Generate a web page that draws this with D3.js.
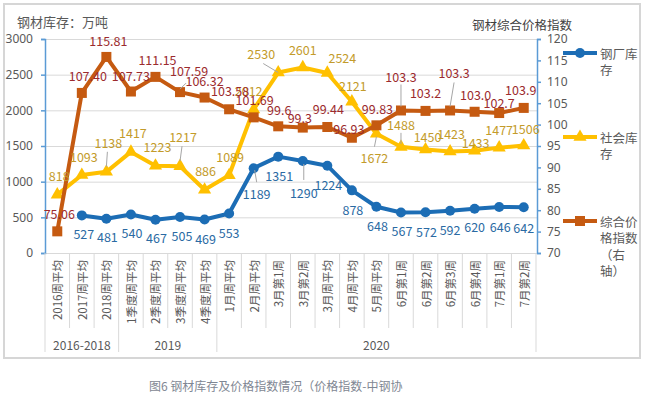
<!DOCTYPE html>
<html>
<head>
<meta charset="utf-8">
<script src="https://cdn.jsdelivr.net/npm/d3@7"></script>
<style>
  body { margin: 0; background: #fff; }
  svg { display: block; font-family: "Noto Sans CJK SC", "Noto Sans", sans-serif; }
</style>
</head>
<body>
<div id="chart"></div>
<script>
// ---- data ----
const categories = [
  '2016周平均', '2017周平均', '2018周平均',
  '1季度周平均', '2季度周平均', '3季度周平均', '4季度周平均',
  '1月周平均', '2月周平均', '3月第1周', '3月第2周', '3月周平均', '4月周平均', '5月周平均',
  '6月第1周', '6月第2周', '6月第3周', '6月第4周', '7月第1周', '7月第2周'
];
const groupNames = ['2016-2018', '2019', '2020'];
const groupSizes = [3, 4, 13];

const millStock   = [null, 527, 481, 540, 467, 505, 469, 553, 1189, 1351, 1290, 1224, 878, 648, 567, 572, 592, 620, 646, 642];
const socialStock = [818, 1093, 1138, 1417, 1223, 1217, 886, 1089, 2012, 2530, 2601, 2524, 2121, 1672, 1488, 1450, 1423, 1433, 1477, 1506];
const priceIndex  = [75.06, 107.40, 115.81, 107.73, 111.15, 107.59, 106.32, 103.58, 101.69, 99.6, 99.3, 99.44, 96.93, 99.83, 103.3, 103.2, 103.3, 103.0, 102.7, 103.9];
const priceText   = ['75.06', '107.40', '115.81', '107.73', '111.15', '107.59', '106.32', '103.58', '101.69', '99.6', '99.3', '99.44', '96.93', '99.83', '103.3', '103.2', '103.3', '103.0', '102.7', '103.9'];

const leftTicks  = [0, 500, 1000, 1500, 2000, 2500, 3000];
const rightTicks = [70, 75, 80, 85, 90, 95, 100, 105, 110, 115, 120];

// ---- label placement (offset of label centre from its point) ----
const millShift = [null, [2,18], [1,18], [1,18], [1,18], [2,19], [1,19], [0,19], [3,25], [1,19],
  [1,32], [1,19], [1,19], [1,19], [1,18], [1,19], [0,19], [0,18], [1,20], [0,20]];
const socialShift = [[2,-19], [2,-19], [2,-29], [2,-19], [2,-19], [3,-30], [1,-19], [1,-19], [-5,-19], [-17,-19],
  [0,-18], [15,-15], [1,-16], [-2,24], [0,-22], [2,-13], [1,-18], [1,-8], [0,-18], [2,-17]];
const priceShift = [[2,-18], [6,-17], [2,-16], [0,-16], [2,-17], [9,-22], [0,-17], [1,-19], [1,-18], [1,-17],
  [-3,-10], [1,-18], [-3,-9], [1,-17], [0,-34], [0,-18], [4,-38], [1,-17], [0,-11], [-3,-18]];
// leader lines: [index, x1, y1, x2, y2] relative to the point
const millLeaders   = [[8, 1, 2, 3, 14], [10, 1, 3, 1, 19]];
const socialLeaders = [[2, 0, -5, 1, -20], [5, 0, -5, 2, -20], [9, 0, 0, -15, -9], [13, 0, 3, -2, 13], [14, 0, -3, 0, -14]];
const priceLeaders  = [[5, 0, -3, 6, -9], [14, 0, -4, 0, -26], [16, 0, -4, 4, -28]];

const C = {
  mill: '#1c6db5', millText: '#2a6aa3',
  social: '#ffc000', socialText: '#c39b2a',
  price: '#c55a11', priceText: '#9c2b2e',
  grid: '#d9d9d9', axis: '#5b9bd5', text: '#595959'
};

const W = 646, H = 397;
const m = { l: 45, r: 537, t: 39, b: 253 };

const svg = d3.select('#chart').append('svg').attr('width', W).attr('height', H);

svg.append('rect').attr('x', 4).attr('y', 4).attr('width', 636).attr('height', 354)
  .attr('fill', '#fff').attr('stroke', '#d6d6d6').attr('stroke-width', 2);

const x  = d3.scaleBand().domain(categories).range([m.l, 536]);
const yL = d3.scaleLinear().domain([0, 3000]).range([m.b, m.t]);
const yR = d3.scaleLinear().domain([70, 120]).range([m.b, m.t]);
const cx = i => x(categories[i]) + x.bandwidth() / 2;

// grid
svg.append('g').attr('transform', `translate(${m.l},0)`)
  .call(d3.axisLeft(yL).tickValues(leftTicks).tickSize(-(m.r - m.l)).tickFormat(''))
  .call(g => g.select('.domain').remove())
  .call(g => g.selectAll('line').attr('stroke', C.grid).attr('stroke-width', 1));

// left axis
svg.append('g').attr('transform', `translate(${m.l},0)`)
  .call(d3.axisLeft(yL).tickValues(leftTicks).tickSize(4).tickPadding(8).tickFormat(d3.format('d')))
  .call(g => g.selectAll('.domain, line').attr('stroke', C.axis).attr('stroke-width', 1.5))
  .call(g => g.selectAll('text').attr('fill', C.text).attr('font-size', 12).attr('font-family', 'Noto Sans'));

// right axis
svg.append('g').attr('transform', `translate(${m.r},0)`)
  .call(d3.axisRight(yR).tickValues(rightTicks).tickSize(4).tickPadding(6).tickFormat(d3.format('d')))
  .call(g => g.selectAll('.domain, line').attr('stroke', C.axis).attr('stroke-width', 1.5))
  .call(g => g.selectAll('text').attr('fill', C.text).attr('font-size', 12).attr('font-family', 'Noto Sans'));

// category dividers + group dividers
const bounds = categories.map(c => x(c)).concat([x.range()[1]]);
const groupStarts = [0];
groupSizes.forEach((s, i) => groupStarts.push(groupStarts[i] + s));
svg.append('g').selectAll('line').data(bounds).join('line')
  .attr('x1', d => d).attr('x2', d => d).attr('y1', m.b)
  .attr('y2', (d, i) => groupStarts.includes(i) ? 352 : 328)
  .attr('stroke', C.grid).attr('stroke-width', 1);

svg.append('g').selectAll('text').data(categories).join('text')
  .attr('transform', (d, i) => `translate(${cx(i)},260) rotate(-90)`)
  .attr('text-anchor', 'end').attr('dominant-baseline', 'central')
  .attr('font-size', 11.5).attr('fill', C.text).text(d => d);

svg.append('g').selectAll('text').data(groupNames).join('text')
  .attr('x', (d, i) => (bounds[groupStarts[i]] + bounds[groupStarts[i + 1]]) / 2)
  .attr('y', 344).attr('text-anchor', 'middle').attr('dominant-baseline', 'central')
  .attr('font-size', 12).attr('fill', C.text).text(d => d);

// series
function drawSeries(values, y, color, marker) {
  const pts = values.map((v, i) => ({ i, v }));
  const line = d3.line().defined(d => d.v != null).x(d => cx(d.i)).y(d => y(d.v));
  svg.append('path').datum(pts).attr('fill', 'none').attr('stroke', color)
    .attr('stroke-width', 4).attr('stroke-linejoin', 'round').attr('d', line);
  const g = svg.append('g');
  pts.filter(d => d.v != null).forEach(d => marker(g, cx(d.i), y(d.v), color));
}
const circleMark = (g, px, py, col) => g.append('circle').attr('cx', px).attr('cy', py).attr('r', 5).attr('fill', col);
const triMark = (g, px, py, col) => g.append('path').attr('d', d3.symbol(d3.symbolTriangle, 75)())
  .attr('transform', `translate(${px},${py})`).attr('fill', col);
const squareMark = (g, px, py, col) => g.append('rect').attr('x', px - 5).attr('y', py - 5)
  .attr('width', 10).attr('height', 10).attr('fill', col);

drawSeries(millStock, yL, C.mill, circleMark);
drawSeries(socialStock, yL, C.social, triMark);
drawSeries(priceIndex, yR, C.price, squareMark);

// leaders + labels
function drawLabels(values, texts, y, shift, leaders, color) {
  const g = svg.append('g');
  leaders.forEach(([i, x1, y1, x2, y2]) => {
    const px = cx(i), py = y(values[i]);
    g.append('line').attr('x1', px + x1).attr('y1', py + y1).attr('x2', px + x2).attr('y2', py + y2)
      .attr('stroke', '#a6a6a6').attr('stroke-width', 1);
  });
  values.forEach((v, i) => {
    if (v == null) return;
    g.append('text').attr('x', cx(i) + shift[i][0]).attr('y', y(v) + shift[i][1])
      .attr('text-anchor', 'middle').attr('dominant-baseline', 'central')
      .attr('font-size', 12.5).attr('fill', color).text(texts[i]);
  });
}
drawLabels(millStock, millStock, yL, millShift, millLeaders, C.millText);
drawLabels(socialStock, socialStock, yL, socialShift, socialLeaders, C.socialText);
drawLabels(priceIndex, priceText, yR, priceShift, priceLeaders, C.priceText);

// legend
const legend = [
  { lines: ['钢厂库', '存'], color: C.mill, mark: circleMark, y: 53 },
  { lines: ['社会库', '存'], color: C.social, mark: triMark, y: 137 },
  { lines: ['综合价', '格指数', '（右', '轴）'], color: C.price, mark: squareMark, y: 221 }
];
legend.forEach(l => {
  const g = svg.append('g');
  g.append('line').attr('x1', 563).attr('x2', 597).attr('y1', l.y).attr('y2', l.y)
    .attr('stroke', l.color).attr('stroke-width', 4);
  l.mark(g, 580, l.y, l.color);
  l.lines.forEach((t, k) => g.append('text').attr('x', 600).attr('y', l.y + k * 16.5)
    .attr('dominant-baseline', 'central').attr('font-size', 12.5).attr('fill', C.text).text(t));
});

// titles + caption
svg.append('text').attr('x', 17).attr('y', 21).attr('dominant-baseline', 'central')
  .attr('font-size', 13).attr('fill', C.text).text('钢材库存：万吨');
svg.append('text').attr('x', 472).attr('y', 24).attr('dominant-baseline', 'central')
  .attr('font-size', 12.5).attr('fill', '#404040').text('钢材综合价格指数');
svg.append('text').attr('x', 149).attr('y', 385).attr('dominant-baseline', 'central')
  .attr('font-size', 12).attr('fill', '#7f8793').text('图6 钢材库存及价格指数情况（价格指数-中钢协');
</script>
</body>
</html>
